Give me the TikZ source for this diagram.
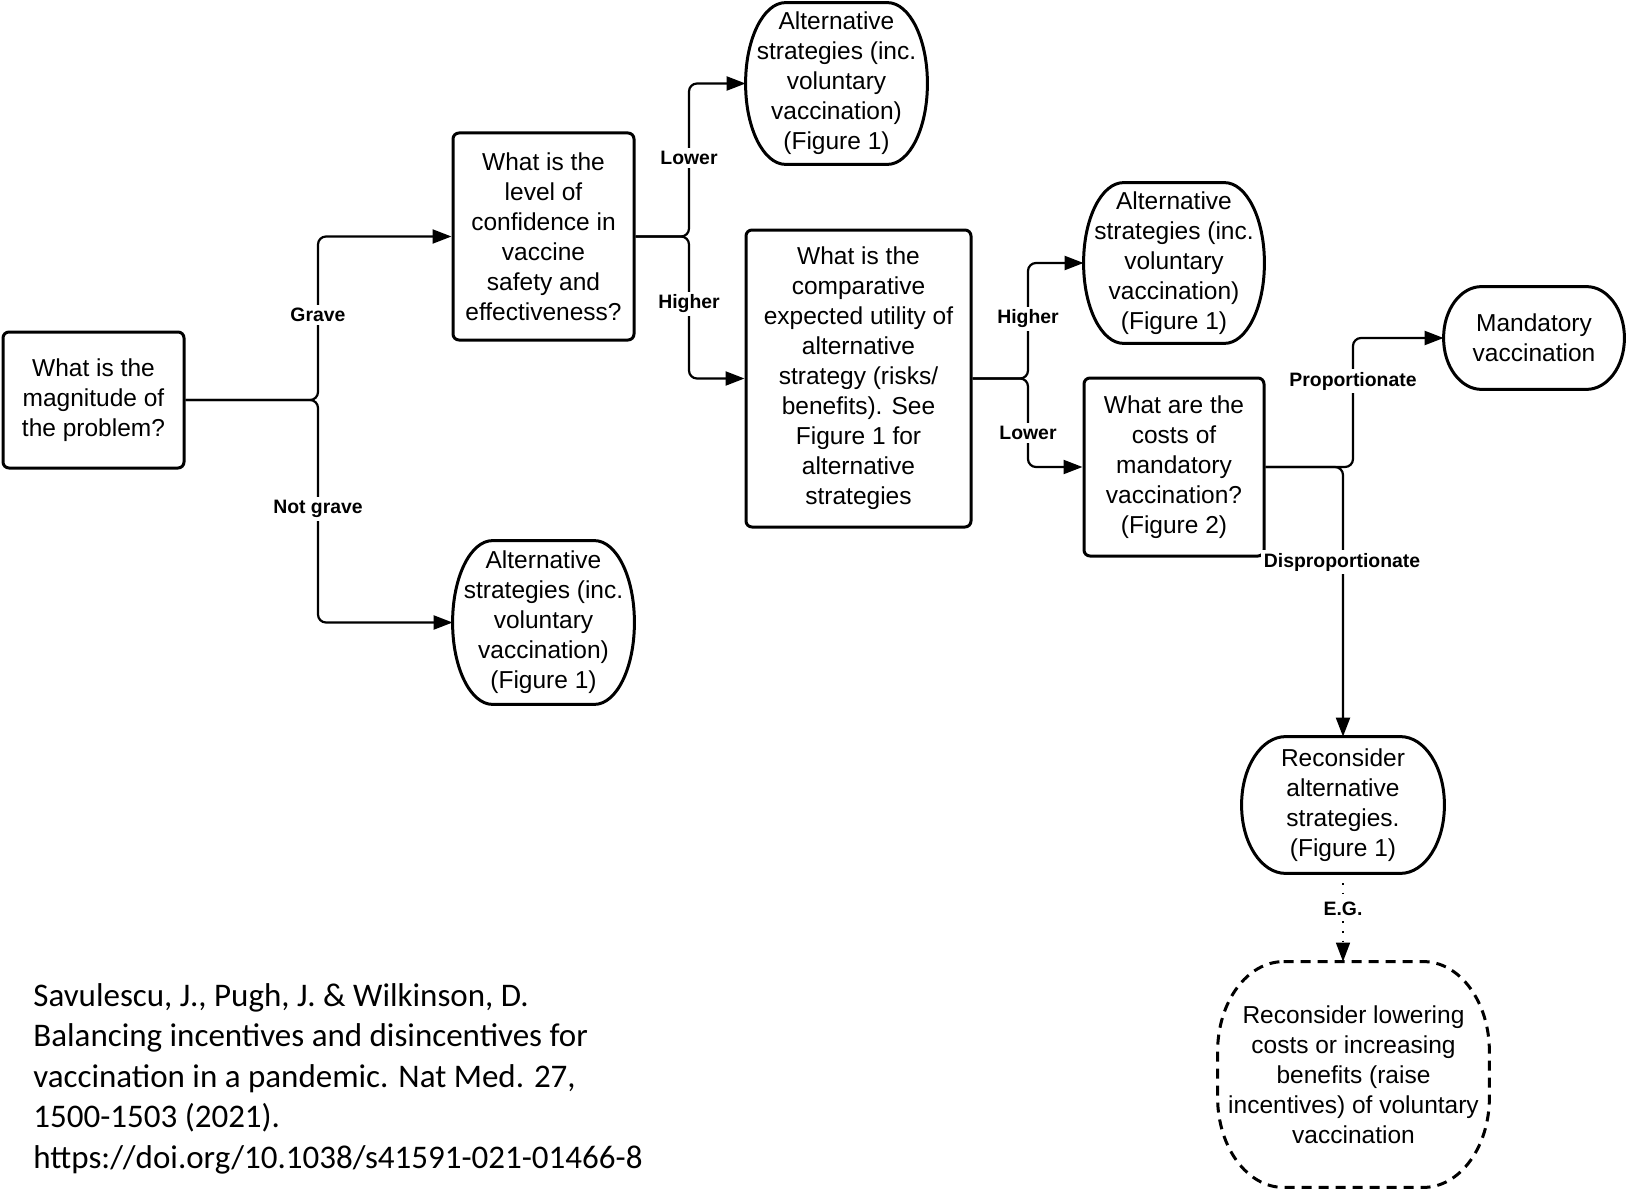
\documentclass[tikz,border=0pt]{standalone}
\usepackage{fontspec}
\setmainfont{Liberation Sans}
\newfontfamily\citefont{Carlito}
\usetikzlibrary{arrows.meta}
\newcommand\ellbox[4]{%
  \draw[#4] ([xshift=#2]#1.north west) -- ([xshift=-#2]#1.north east)
    arc[start angle=90,end angle=0,x radius=#2,y radius=#3]
    -- ([yshift=#3]#1.south east)
    arc[start angle=0,end angle=-90,x radius=#2,y radius=#3]
    -- ([xshift=#2]#1.south west)
    arc[start angle=270,end angle=180,x radius=#2,y radius=#3]
    -- ([yshift=-#3]#1.north west)
    arc[start angle=180,end angle=90,x radius=#2,y radius=#3]
    -- cycle;}
\tikzset{
  txt/.style={align=center, inner sep=0pt, font=\fontsize{12.25}{15}\selectfont},
  qbox/.style={txt, draw, line width=1.5pt, rounded corners=3pt},
  ebox/.style={txt},
  eline/.style={line width=1.5pt},
  conn/.style={line width=1.1pt, rounded corners=4pt, -{Triangle[length=9.5pt,width=7pt]}},
  lbl/.style={fill=white, inner sep=1.5pt, font=\bfseries\fontsize{9.7}{11}\selectfont},
}
\begin{document}
\begin{tikzpicture}[x=0.5pt,y=-0.5pt]
\useasboundingbox (0,0) rectangle (1629,1193);

\node[qbox, minimum width=90.5pt, minimum height=68pt] (mag) at (93.5,400) {What is the\\magnitude of\\the problem?};
\node[qbox, minimum width=90.5pt, minimum height=103.5pt] (conf) at (543.5,236.5) {What is the\\level of\\confidence in\\vaccine\\safety and\\effectiveness?};
\node[ebox, minimum width=90.5pt, minimum height=80.5pt] (alta) at (836.5,83.5) {Alternative\\strategies (inc.\\voluntary\\vaccination)\\(Figure 1)};
\node[qbox, minimum width=112.5pt, minimum height=148.5pt] (comp) at (858.5,378.5) {What is the\\comparative\\expected utility of\\alternative\\strategy (risks/\\benefits). See\\Figure 1 for\\alternative\\strategies};
\node[ebox, minimum width=90pt, minimum height=80pt] (altb) at (1174,263) {Alternative\\strategies (inc.\\voluntary\\vaccination)\\(Figure 1)};
\node[ebox, minimum width=90pt, minimum height=51pt] (mand) at (1534,338) {Mandatory\\vaccination};
\node[qbox, minimum width=90pt, minimum height=89pt] (costs) at (1174,467) {What are the\\costs of\\mandatory\\vaccination?\\(Figure 2)};
\node[ebox, minimum width=90.5pt, minimum height=81.5pt] (altc) at (543.5,622.5) {Alternative\\strategies (inc.\\voluntary\\vaccination)\\(Figure 1)};
\node[ebox, minimum width=101pt, minimum height=68pt] (recon) at (1343,805) {Reconsider\\alternative\\strategies.\\(Figure 1)};
\node[ebox, minimum width=135.5pt, minimum height=112.5pt] (lower) at (1353.5,1074.5) {Reconsider lowering\\costs or increasing\\benefits (raise\\incentives) of voluntary\\vaccination};

\ellbox{alta}{20pt}{40.25pt}{eline}
\ellbox{altb}{20pt}{40pt}{eline}
\ellbox{altc}{20pt}{40.75pt}{eline}
\ellbox{mand}{19pt}{25.5pt}{eline}
\ellbox{recon}{22pt}{34pt}{eline}
\ellbox{lower}{33pt}{45pt}{eline, dash pattern=on 5pt off 3.5pt}

\coordinate (j1) at (318,400);
\coordinate (j2) at (689,236.5);
\coordinate (j3) at (1028,378.5);
\coordinate (j4) at (1353,467);

\draw[conn] (mag.east) -- (j1) |- (conf.west);
\draw[conn] (mag.east) -- (j1) |- (altc.west);
\draw[conn] (conf.east) -- (j2) |- (alta.west);
\draw[conn] (conf.east) -- (j2) |- (comp.west);
\draw[conn] (comp.east) -- (j3) |- (altb.west);
\draw[conn] (comp.east) -- (j3) |- (costs.west);
\draw[conn] (costs.east) -- (j4) |- (mand.west);
\draw[conn] (costs.east) -| (recon.north);
\draw[conn, line width=0.8pt, dash pattern=on 0.8pt off 4pt] (recon.south) -- (recon.south |- lower.north);

\node[lbl] (lgrave) at (318,315) {Grave};
\node[lbl] (lnot) at (318,509) {Not grave};
\node[lbl] (llow1) at (689,158) {Lower};
\node[lbl] (lhigh1) at (689,304) {Higher};
\node[lbl] (lhigh2) at (1028,319) {Higher};
\node[lbl] (llow2) at (1028,433) {Lower};
\node[lbl] (lprop) at (1353,381) {Proportionate};
\node[lbl] (ldis) at (1342,562) {Disproportionate};
\node[lbl] (leg) at (1343,909) {E.G.};

\node[anchor=north west, align=left, inner sep=0pt, font=\citefont\fontsize{16.5}{20.25}\selectfont] (cite) at (33,983)
 {Savulescu, J., Pugh, J. \& Wilkinson, D.\\Balancing incentives and disincentives for\\vaccination in a pandemic. Nat Med. 27,\\1500-1503 (2021).\\https://doi.org/10.1038/s41591-021-01466-8};
\end{tikzpicture}
\end{document}
